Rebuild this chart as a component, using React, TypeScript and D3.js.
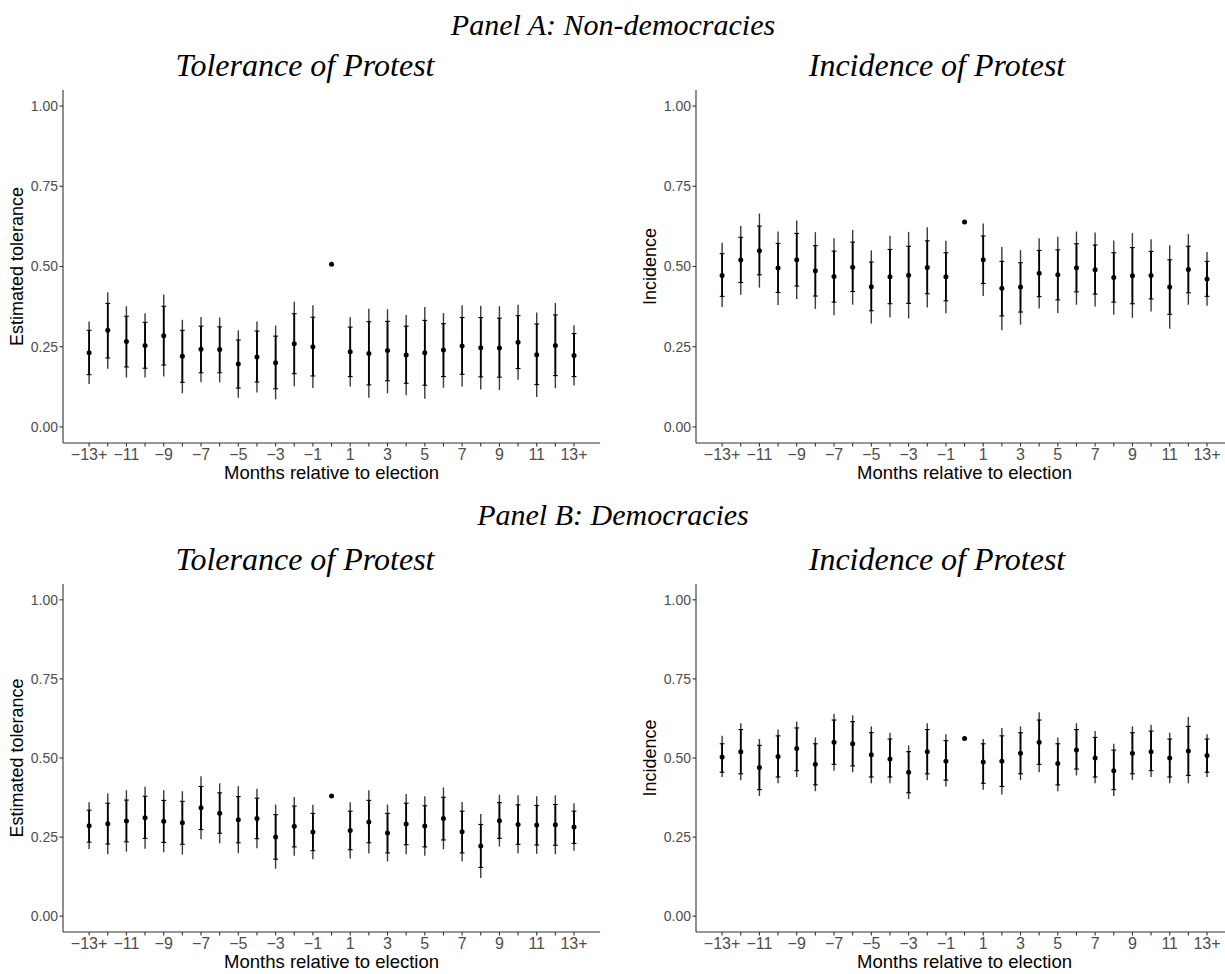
import React from "react";
import * as d3 from "d3";

// Month bins relative to the election
const categories = [
  "-13+", "-12", "-11", "-10", "-9", "-8", "-7", "-6", "-5", "-4", "-3", "-2", "-1",
  "0", "1", "2", "3", "4", "5", "6", "7", "8", "9", "10", "11", "12", "13+",
];
// Every other bin gets a label on the axis
const tickLabels = [
  "\u221213+", "", "\u221211", "", "\u22129", "", "\u22127", "", "\u22125", "", "\u22123", "", "\u22121",
  "", "1", "", "3", "", "5", "", "7", "", "9", "", "11", "", "13+",
];
const yTicks = [0, 0.25, 0.5, 0.75, 1.0];

// Panel A, tolerance (non-democracies)
const tolNonEst = [0.231, 0.301, 0.266, 0.254, 0.284, 0.22, 0.242, 0.241, 0.196, 0.218, 0.2, 0.259, 0.25, 0.507, 0.234, 0.229, 0.238, 0.224, 0.231, 0.24, 0.252, 0.247, 0.246, 0.264, 0.225, 0.254, 0.223];
const tolNonLo95 = [0.134, 0.181, 0.154, 0.154, 0.157, 0.105, 0.139, 0.139, 0.091, 0.107, 0.086, 0.127, 0.121, NaN, 0.126, 0.091, 0.105, 0.099, 0.088, 0.122, 0.126, 0.117, 0.115, 0.147, 0.093, 0.121, 0.129];
const tolNonHi95 = [0.329, 0.42, 0.376, 0.354, 0.413, 0.334, 0.343, 0.341, 0.301, 0.329, 0.316, 0.39, 0.379, NaN, 0.342, 0.368, 0.367, 0.349, 0.374, 0.355, 0.379, 0.378, 0.376, 0.381, 0.357, 0.386, 0.317];
const tolNonLo90 = [0.163, 0.215, 0.187, 0.183, 0.193, 0.139, 0.169, 0.169, 0.121, 0.14, 0.119, 0.166, 0.159, NaN, 0.157, 0.131, 0.144, 0.136, 0.13, 0.157, 0.164, 0.156, 0.155, 0.182, 0.132, 0.16, 0.157];
const tolNonHi90 = [0.301, 0.385, 0.345, 0.326, 0.376, 0.301, 0.314, 0.312, 0.271, 0.299, 0.283, 0.353, 0.342, NaN, 0.311, 0.328, 0.329, 0.314, 0.332, 0.322, 0.341, 0.341, 0.339, 0.347, 0.321, 0.349, 0.291];

// Panel A, incidence (non-democracies)
const incNonEst = [0.472, 0.52, 0.549, 0.495, 0.521, 0.487, 0.469, 0.498, 0.437, 0.468, 0.473, 0.497, 0.468, 0.639, 0.521, 0.432, 0.436, 0.479, 0.474, 0.496, 0.49, 0.466, 0.471, 0.472, 0.436, 0.491, 0.461];
const incNonLo95 = [0.374, 0.412, 0.434, 0.38, 0.399, 0.368, 0.348, 0.381, 0.322, 0.341, 0.338, 0.372, 0.354, NaN, 0.408, 0.301, 0.319, 0.369, 0.355, 0.381, 0.375, 0.35, 0.34, 0.36, 0.306, 0.381, 0.378];
const incNonHi95 = [0.574, 0.626, 0.665, 0.609, 0.643, 0.607, 0.588, 0.614, 0.55, 0.596, 0.608, 0.622, 0.58, NaN, 0.634, 0.561, 0.551, 0.588, 0.593, 0.609, 0.606, 0.581, 0.604, 0.585, 0.566, 0.601, 0.545];
const incNonLo90 = [0.407, 0.45, 0.474, 0.419, 0.439, 0.408, 0.389, 0.422, 0.362, 0.384, 0.385, 0.415, 0.393, NaN, 0.447, 0.346, 0.358, 0.406, 0.396, 0.421, 0.414, 0.389, 0.384, 0.399, 0.351, 0.418, 0.407];
const incNonHi90 = [0.54, 0.591, 0.626, 0.572, 0.603, 0.565, 0.548, 0.576, 0.514, 0.553, 0.563, 0.58, 0.543, NaN, 0.595, 0.516, 0.512, 0.55, 0.552, 0.571, 0.567, 0.543, 0.559, 0.547, 0.521, 0.563, 0.516];

// Panel B, tolerance (democracies)
const tolDemEst = [0.286, 0.292, 0.301, 0.311, 0.3, 0.295, 0.343, 0.325, 0.305, 0.309, 0.25, 0.284, 0.266, 0.38, 0.271, 0.298, 0.263, 0.291, 0.285, 0.309, 0.267, 0.222, 0.302, 0.29, 0.288, 0.289, 0.282];
const tolDemLo95 = [0.212, 0.196, 0.204, 0.213, 0.202, 0.195, 0.243, 0.23, 0.199, 0.215, 0.15, 0.191, 0.18, NaN, 0.182, 0.198, 0.173, 0.196, 0.191, 0.211, 0.173, 0.121, 0.22, 0.198, 0.197, 0.196, 0.207];
const tolDemHi95 = [0.36, 0.388, 0.398, 0.409, 0.398, 0.395, 0.442, 0.42, 0.411, 0.403, 0.353, 0.377, 0.352, NaN, 0.36, 0.398, 0.353, 0.386, 0.379, 0.407, 0.361, 0.323, 0.384, 0.382, 0.379, 0.382, 0.357];
const tolDemLo90 = [0.234, 0.228, 0.235, 0.246, 0.233, 0.227, 0.274, 0.262, 0.232, 0.245, 0.18, 0.219, 0.207, NaN, 0.21, 0.232, 0.2, 0.226, 0.219, 0.241, 0.2, 0.154, 0.246, 0.227, 0.225, 0.224, 0.23];
const tolDemHi90 = [0.335, 0.357, 0.367, 0.379, 0.366, 0.363, 0.41, 0.39, 0.378, 0.373, 0.321, 0.348, 0.325, NaN, 0.332, 0.366, 0.325, 0.357, 0.349, 0.376, 0.332, 0.29, 0.359, 0.352, 0.35, 0.353, 0.332];

// Panel B, incidence (democracies)
const incDemEst = [0.503, 0.52, 0.47, 0.505, 0.53, 0.48, 0.55, 0.545, 0.51, 0.497, 0.455, 0.52, 0.49, 0.562, 0.487, 0.49, 0.515, 0.55, 0.483, 0.525, 0.5, 0.46, 0.515, 0.52, 0.5, 0.522, 0.508];
const incDemLo95 = [0.44, 0.43, 0.38, 0.42, 0.44, 0.395, 0.46, 0.455, 0.42, 0.42, 0.37, 0.43, 0.41, NaN, 0.4, 0.385, 0.43, 0.455, 0.395, 0.445, 0.42, 0.38, 0.43, 0.44, 0.42, 0.42, 0.44];
const incDemHi95 = [0.57, 0.61, 0.56, 0.59, 0.615, 0.565, 0.64, 0.635, 0.6, 0.58, 0.54, 0.61, 0.575, NaN, 0.56, 0.595, 0.6, 0.645, 0.565, 0.61, 0.585, 0.545, 0.6, 0.605, 0.58, 0.63, 0.575];
const incDemLo90 = [0.455, 0.45, 0.4, 0.44, 0.46, 0.415, 0.48, 0.475, 0.44, 0.44, 0.39, 0.45, 0.43, NaN, 0.42, 0.41, 0.45, 0.48, 0.415, 0.465, 0.44, 0.4, 0.45, 0.46, 0.44, 0.445, 0.455];
const incDemHi90 = [0.545, 0.59, 0.54, 0.57, 0.595, 0.545, 0.62, 0.615, 0.58, 0.56, 0.52, 0.59, 0.555, NaN, 0.545, 0.57, 0.58, 0.62, 0.545, 0.59, 0.565, 0.525, 0.58, 0.585, 0.56, 0.6, 0.56];

const W = 1225;
const H = 974;
const SANS = "'Liberation Sans', Arial, Helvetica, sans-serif";
const SERIF = "'Liberation Serif', 'Times New Roman', Times, serif";

type PanelProps = {
  left: number;
  top: number;
  bottom: number;
  titleX: number;
  title: string;
  yTitle: string;
  est: number[];
  lo95: number[];
  hi95: number[];
  lo90: number[];
  hi90: number[];
};

function Panel({ left, top, bottom, titleX, title, yTitle, est, lo95, hi95, lo90, hi90 }: PanelProps) {
  const step = 18.65;
  const pad = 1.4;
  const right = left + step * (categories.length - 1 + 2 * pad);
  const x = d3.scalePoint<string>().domain(categories).range([left, right]).padding(pad);
  const y = d3.scaleLinear().domain([-0.05, 1.05]).range([bottom, top]);
  const cx = (left + right) / 2;
  const axisColor = "#333";
  const tickCol = "#4d4d4d";
  return (
    <g>
      <text x={titleX} y={top - 14} textAnchor="middle" fontFamily={SERIF} fontStyle="italic" fontSize={32} fill="#000">
        {title}
      </text>
      {/* y axis */}
      <line x1={left} x2={left} y1={top} y2={bottom} stroke={axisColor} strokeWidth={1.1} />
      {yTicks.map((t) => (
        <g key={t}>
          <line x1={left - 3.5} x2={left} y1={y(t)} y2={y(t)} stroke={axisColor} strokeWidth={1.1} />
          <text x={left - 5} y={y(t)} dy="0.35em" textAnchor="end" fontFamily={SANS} fontSize={14} fill={tickCol}>
            {d3.format(".2f")(t)}
          </text>
        </g>
      ))}
      {/* x axis */}
      <line x1={left} x2={right} y1={bottom} y2={bottom} stroke={axisColor} strokeWidth={1.1} />
      {categories.map((c, i) => (
        <g key={c}>
          <line x1={x(c)!} x2={x(c)!} y1={bottom} y2={bottom + 3.5} stroke={axisColor} strokeWidth={1.1} />
          {tickLabels[i] && (
            <text x={x(c)!} y={bottom + 17} textAnchor="middle" fontFamily={SANS} fontSize={16} fill={tickCol}>
              {tickLabels[i]}
            </text>
          )}
        </g>
      ))}
      <text x={cx} y={bottom + 36} textAnchor="middle" fontFamily={SANS} fontSize={18.5} fill="#000">
        Months relative to election
      </text>
      <text
        transform={`translate(${left - 40},${(top + bottom) / 2}) rotate(-90)`}
        textAnchor="middle"
        fontFamily={SANS}
        fontSize={18}
        fill="#000"
      >
        {yTitle}
      </text>
      {/* estimates with 95% and 90% intervals */}
      {categories.map((c, i) => {
        const px = x(c)!;
        const hasCI = !Number.isNaN(lo95[i]);
        return (
          <g key={"m" + c}>
            {hasCI && (
              <>
                <line x1={px} x2={px} y1={y(lo95[i])} y2={y(hi95[i])} stroke="#3a3a3a" strokeWidth={1.4} />
                <line x1={px} x2={px} y1={y(lo90[i])} y2={y(hi90[i])} stroke="#000" strokeWidth={1.8} />
                <line x1={px - 2.4} x2={px + 2.4} y1={y(lo90[i])} y2={y(lo90[i])} stroke="#000" strokeWidth={1.1} />
                <line x1={px - 2.4} x2={px + 2.4} y1={y(hi90[i])} y2={y(hi90[i])} stroke="#000" strokeWidth={1.1} />
              </>
            )}
            <circle cx={px} cy={y(est[i])} r={2.5} fill="#000" />
          </g>
        );
      })}
    </g>
  );
}

export default function App() {
  const leftA = 63;
  const leftB = 696;
  return (
    <svg
      width={W}
      height={H}
      viewBox={`0 0 ${W} ${H}`}
      style={{ position: "absolute", left: 0, top: 0, background: "#fff" }}
    >
      <rect width={W} height={H} fill="#fff" />
      <text x={613} y={35} textAnchor="middle" fontFamily={SERIF} fontStyle="italic" fontSize={30} fill="#000">
        Panel A: Non-democracies
      </text>
      <Panel left={leftA} top={90} bottom={443} titleX={305} title="Tolerance of Protest" yTitle="Estimated tolerance"
        est={tolNonEst} lo95={tolNonLo95} hi95={tolNonHi95} lo90={tolNonLo90} hi90={tolNonHi90} />
      <Panel left={leftB} top={90} bottom={443} titleX={937} title="Incidence of Protest" yTitle="Incidence"
        est={incNonEst} lo95={incNonLo95} hi95={incNonHi95} lo90={incNonLo90} hi90={incNonHi90} />
      <text x={613} y={525} textAnchor="middle" fontFamily={SERIF} fontStyle="italic" fontSize={30} fill="#000">
        Panel B: Democracies
      </text>
      <Panel left={leftA} top={584} bottom={932} titleX={305} title="Tolerance of Protest" yTitle="Estimated tolerance"
        est={tolDemEst} lo95={tolDemLo95} hi95={tolDemHi95} lo90={tolDemLo90} hi90={tolDemHi90} />
      <Panel left={leftB} top={584} bottom={932} titleX={937} title="Incidence of Protest" yTitle="Incidence"
        est={incDemEst} lo95={incDemLo95} hi95={incDemHi95} lo90={incDemLo90} hi90={incDemHi90} />
    </svg>
  );
}
